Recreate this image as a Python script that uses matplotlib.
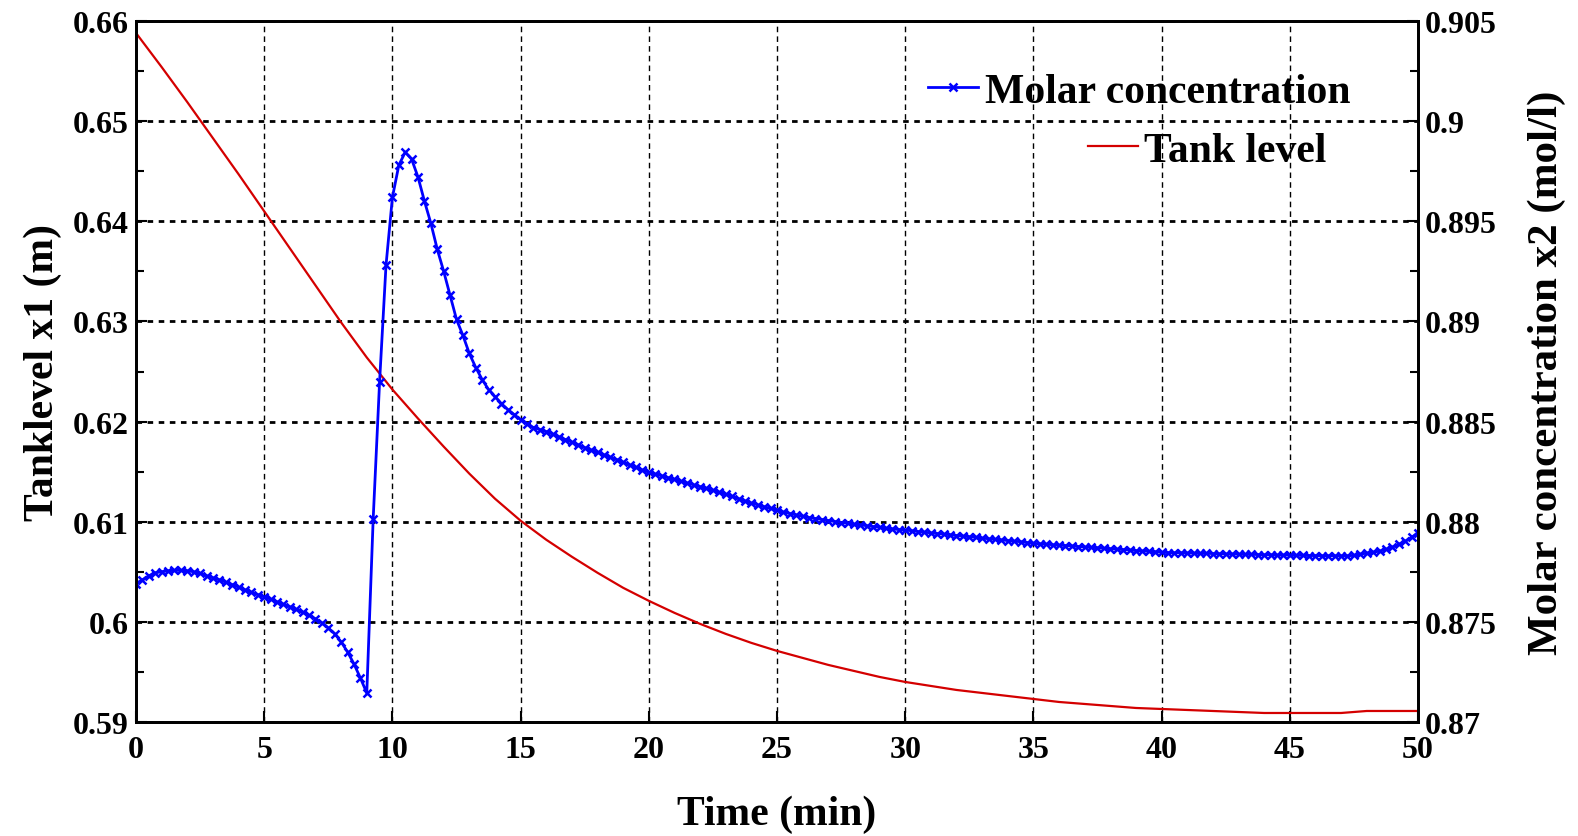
import numpy as np
import matplotlib
matplotlib.use("Agg")
import matplotlib.pyplot as plt
from matplotlib.ticker import FormatStrFormatter, MultipleLocator, AutoMinorLocator

plt.rcParams['font.family'] = ['Liberation Serif', 'DejaVu Serif']
plt.rcParams['font.weight'] = 'bold'

# tank level x1 (m), sampled every minute
t_level = np.arange(0, 51, 1)
tank_level = [0.6588, 0.6554, 0.6519, 0.6483, 0.6447, 0.6410, 0.6373, 0.6336, 0.6299, 0.6264,
              0.6232, 0.6203, 0.6175, 0.6148, 0.6123, 0.6101, 0.6082, 0.6065, 0.6049, 0.6034,
              0.6021, 0.6009, 0.5998, 0.5988, 0.5979, 0.5971, 0.5964, 0.5957, 0.5951, 0.5945,
              0.5940, 0.5936, 0.5932, 0.5929, 0.5926, 0.5923, 0.5920, 0.5918, 0.5916, 0.5914,
              0.5913, 0.5912, 0.5911, 0.5910, 0.5909, 0.5909, 0.5909, 0.5909, 0.5911, 0.5911,
              0.5911]

# molar concentration x2 (mol/l), sampled every 0.25 min
t_conc = np.arange(0, 50.01, 0.25)
molar_conc = [
    0.87690, 0.87710, 0.87730, 0.87745, 0.87750, 0.87755, 0.87757, 0.87757,   # 0-2
    0.87755, 0.87750, 0.87742, 0.87730, 0.87720, 0.87710, 0.87698, 0.87686,   # 2-4
    0.87673, 0.87660, 0.87648, 0.87636, 0.87625, 0.87613, 0.87600, 0.87588,   # 4-6
    0.87575, 0.87562, 0.87548, 0.87532, 0.87515, 0.87495, 0.87470, 0.87440,   # 6-8
    0.87400, 0.87350, 0.87290, 0.87220, 0.87145, 0.88015, 0.88700, 0.89280,   # 8-10
    0.89620, 0.89780, 0.89845, 0.89810, 0.89720, 0.89600, 0.89490, 0.89360,   # 10-12
    0.89250, 0.89130, 0.89010, 0.88930, 0.88840, 0.88770, 0.88710, 0.88660,   # 12-14
    0.88625, 0.88590, 0.88560, 0.88535, 0.88510, 0.88490, 0.88470, 0.88460,   # 14-16
    0.88450, 0.88437, 0.88424, 0.88410, 0.88397, 0.88384, 0.88370, 0.88358,   # 16-18
    0.88346, 0.88334, 0.88322, 0.88310, 0.88297, 0.88284, 0.88271, 0.88258,   # 18-20
    0.88247, 0.88238, 0.88229, 0.88220, 0.88211, 0.88202, 0.88193, 0.88184,   # 20-22
    0.88175, 0.88166, 0.88157, 0.88147, 0.88137, 0.88126, 0.88115, 0.88104,   # 22-24
    0.88093, 0.88084, 0.88075, 0.88066, 0.88057, 0.88048, 0.88041, 0.88034,   # 24-26
    0.88027, 0.88021, 0.88016, 0.88011, 0.88006, 0.88001, 0.87996, 0.87992,   # 26-28
    0.87988, 0.87984, 0.87980, 0.87976, 0.87972, 0.87968, 0.87964, 0.87961,   # 28-30
    0.87958, 0.87955, 0.87951, 0.87948, 0.87944, 0.87941, 0.87938, 0.87935,   # 30-32
    0.87931, 0.87928, 0.87925, 0.87922, 0.87918, 0.87915, 0.87912, 0.87909,   # 32-34
    0.87906, 0.87903, 0.87900, 0.87896, 0.87892, 0.87890, 0.87888, 0.87885,   # 34-36
    0.87883, 0.87881, 0.87879, 0.87876, 0.87874, 0.87872, 0.87870, 0.87867,   # 36-38
    0.87865, 0.87863, 0.87861, 0.87859, 0.87856, 0.87854, 0.87852, 0.87850,   # 38-40
    0.87847, 0.87846, 0.87845, 0.87845, 0.87844, 0.87843, 0.87842, 0.87842,   # 40-42
    0.87841, 0.87840, 0.87839, 0.87839, 0.87838, 0.87837, 0.87837, 0.87836,   # 42-44
    0.87835, 0.87835, 0.87834, 0.87834, 0.87833, 0.87832, 0.87832, 0.87831,   # 44-46
    0.87831, 0.87830, 0.87830, 0.87830, 0.87830, 0.87830, 0.87832, 0.87838,   # 46-48
    0.87843, 0.87848, 0.87853, 0.87862, 0.87873, 0.87887, 0.87902, 0.87922,   # 48-50
    0.87945]

fig = plt.figure(figsize=(15.78, 8.37), dpi=100)
ax1 = fig.add_axes([0.0862, 0.1362, 0.8124, 0.8375])
ax2 = ax1.twinx()

line_red, = ax1.plot(t_level, tank_level, color='#d40000', lw=1.6, label='Tank level')
line_blue, = ax2.plot(t_conc, molar_conc, color='#0000ff', lw=2.0, marker='x',
                      markersize=6, markeredgewidth=1.8, label='Molar concentration')

ax1.set_xlim(0, 50)
ax1.set_ylim(0.59, 0.66)
ax2.set_ylim(0.87, 0.905)
ax1.xaxis.set_major_locator(MultipleLocator(5))
ax1.yaxis.set_major_locator(MultipleLocator(0.01))
ax2.yaxis.set_major_locator(MultipleLocator(0.005))
ax1.yaxis.set_minor_locator(AutoMinorLocator(2))
ax2.yaxis.set_minor_locator(AutoMinorLocator(2))
ax1.yaxis.set_major_formatter(FormatStrFormatter('%g'))
ax2.yaxis.set_major_formatter(FormatStrFormatter('%g'))

for ax in (ax1, ax2):
    ax.tick_params(which='major', direction='in', length=8, width=1.5, labelsize=23, pad=5)
    ax.tick_params(which='minor', direction='in', length=6, width=1.5)
    for s in ax.spines.values():
        s.set_linewidth(2)
ax1.tick_params(axis='x', pad=9)

ax1.grid(axis='x', color='black', linestyle=(0, (4, 3)), lw=1.0)
ax1.grid(axis='y', color='black', linestyle=(0, (2, 2)), lw=2.0)

ax1.set_xlabel('Time (min)', fontsize=30, fontweight='bold', labelpad=22)
ax1.set_ylabel('Tanklevel x1 (m)', fontsize=30, fontweight='bold', labelpad=8)
ax2.set_ylabel('Molar concentration x2 (mol/l)', fontsize=31, fontweight='bold', labelpad=22)

leg1 = ax2.legend(handles=[line_blue], loc='center left', bbox_to_anchor=(0.618, 0.899),
                  frameon=False, fontsize=30, borderpad=0, borderaxespad=0,
                  handlelength=1.2, handletextpad=0.15)
leg2 = ax2.legend(handles=[line_red], loc='center left', bbox_to_anchor=(0.7426, 0.8146),
                  frameon=False, fontsize=30, borderpad=0, borderaxespad=0,
                  handlelength=1.2, handletextpad=0.15)
ax2.add_artist(leg1)
for lh in leg1.get_lines():
    lh.set_markevery([1])

fig.savefig('out.png', dpi=100)
